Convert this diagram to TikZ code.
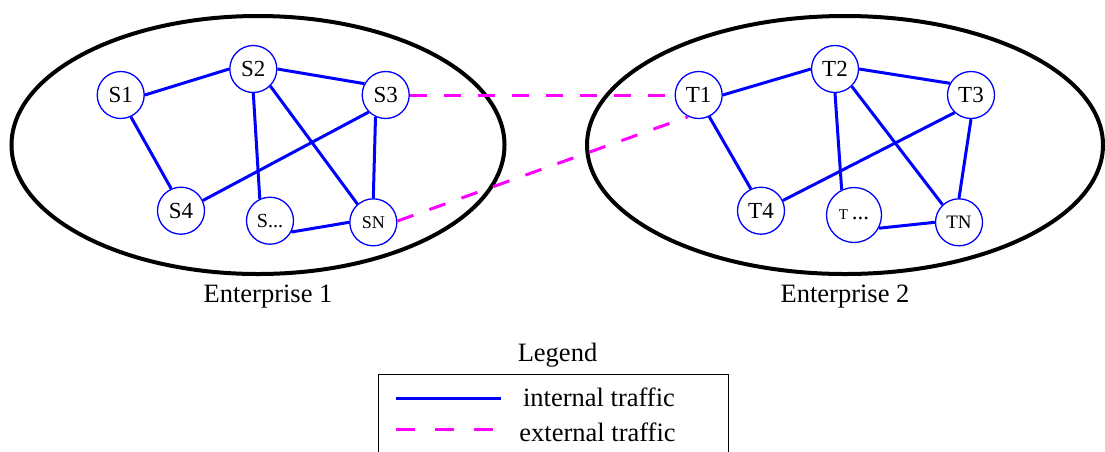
\documentclass[tikz,border=0pt]{standalone}
\usepackage{fontspec}
\setmainfont{Liberation Serif}
\definecolor{pmag}{RGB}{255,0,255}
\definecolor{pblue}{RGB}{0,0,255}
\begin{document}
\begin{tikzpicture}[x=1pt,y=-1pt,
  host/.style={circle,draw=pblue,line width=1.3pt,minimum size=47pt,inner sep=0pt,font=\fontsize{23}{25}\selectfont},
  intl/.style={draw=pblue,line width=3pt},
  extl/.style={draw=pmag,line width=3pt,dash pattern=on 17pt off 17pt},
  ent/.style={draw=black,line width=4pt},
  lbl/.style={font=\fontsize{26.5}{30}\selectfont,inner sep=0pt}]
\clip (0,0) rectangle (1105,451);
% enterprises
\draw[ent] (258,145) ellipse [x radius=246.5pt, y radius=129pt];
\draw[ent] (845,145) ellipse [x radius=258pt, y radius=129pt];
\node[lbl] (e1) at (268,297) {Enterprise 1};
\node[lbl] (e2) at (845,297) {Enterprise 2};
% enterprise 1 hosts
\node[host] (S1) at (120.7,95) {S1};
\node[host] (S2) at (253.3,69) {S2};
\node[host] (S3) at (385.7,95) {S3};
\node[host] (S4) at (181,210.7) {S4};
\node[host,font=\fontsize{20}{22}\selectfont] (Sd) at (270,220.7) {S...};
\node[host,font=\fontsize{18}{20}\selectfont] (SN) at (373.3,222.3) {SN};
% enterprise 2 hosts
\node[host] (T1) at (698.7,95) {T1};
\node[host] (T2) at (835,69) {T2};
\node[host] (T3) at (971,95) {T3};
\node[host] (T4) at (761,210.7) {T4};
\node[host,minimum size=55pt] (Td) at (854,215) {{\fontsize{15}{16}\selectfont T}\,...};
\node[host,font=\fontsize{19}{21}\selectfont] (TN) at (959,222.3) {TN};
% internal links enterprise 1
\draw[intl] (S1.0) -- (S2.180);
\draw[intl] (S2.0) -- (S3.152);
\draw[intl] (S1.295) -- (S4.114);
\draw[intl] (S3.225) -- (S4.25);
\draw[intl] (S2.270) -- (Sd.115);
\draw[intl] (S2.315) -- (SN.131);
\draw[intl] (S3.245) -- (SN.90);
\draw[intl] (Sd.332) -- (SN.180);
% internal links enterprise 2
\draw[intl] (T1.0) -- (T2.180);
\draw[intl] (T2.0) -- (T3.151);
\draw[intl] (T1.296) -- (T4.115);
\draw[intl] (T3.227) -- (T4.25);
\draw[intl] (T2.270) -- (Td.116);
\draw[intl] (T2.314) -- (TN.133);
\draw[intl] (T3.270) -- (TN.90);
\draw[intl] (Td.332) -- (TN.180);
% external links
\draw[extl] (S3.0) -- (T1.180);
\draw[extl] (SN.3) -- (T1.244);
% legend
\node[lbl] (lg) at (557.5,355) {Legend};
\draw[line width=1.5pt] (378.3,470) -- (378.3,374.3) -- (728.3,374.3) -- (728.3,470);
\coordinate (a1) at (396,398.3);
\coordinate (a2) at (501,398.3);
\coordinate (b1) at (396,429);
\coordinate (b2) at (493,429);
\draw[intl] (a1) -- (a2);
\draw[draw=pmag,line width=3pt,dash pattern=on 19pt off 20pt] (b1) -- (b2);
\node[lbl] (li) at (599,397) {internal traffic};
\node[lbl] (le) at (597.5,432) {external traffic};
\end{tikzpicture}
\end{document}
